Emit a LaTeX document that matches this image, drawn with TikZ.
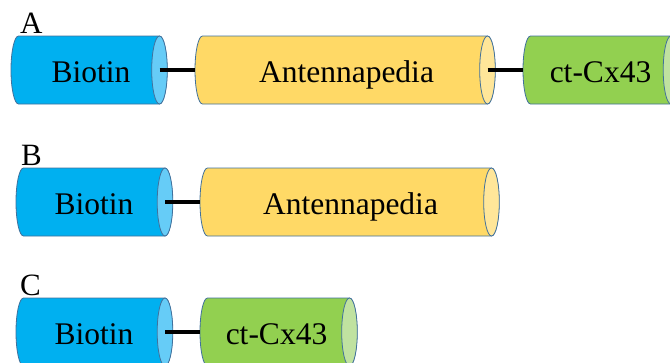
\documentclass[tikz,border=0pt]{standalone}
\usepackage{fontspec}
\setmainfont{Liberation Serif}
\definecolor{outl}{HTML}{41719C}
\definecolor{bioBody}{HTML}{00B0F0}
\definecolor{bioCap}{HTML}{66CCF7}
\definecolor{antBody}{HTML}{FFD966}
\definecolor{antCap}{HTML}{FFE699}
\definecolor{cxBody}{HTML}{92D050}
\definecolor{cxCap}{HTML}{C0E2A0}
\tikzset{
  cylline/.style={draw=outl, line width=0.8pt},
  conn/.style={draw=black, line width=3.5pt},
  lab/.style={font=\fontsize{31.5}{36}\selectfont, inner sep=0pt, anchor=base},
  rowlab/.style={font=\fontsize{31}{34}\selectfont, inner sep=0pt, anchor=base west}
}
% #1 name, #2 left x, #3 right cap centre x, #4 centre y, #5 body, #6 cap, #7 text, #8 text x
\newcommand\mycyl[8]{%
  \path[cylline, fill=#5] (#3,#4-34) -- (#2+7.5,#4-34)
     arc[start angle=270, end angle=90, x radius=7.5, y radius=34]
     -- (#3,#4+34)
     arc[start angle=90, end angle=-90, x radius=7.5, y radius=34] -- cycle;
  \path[cylline, fill=#6] (#3,#4) ellipse[x radius=7.8, y radius=34];
  \coordinate (#1-l) at (#2,#4);
  \coordinate (#1-c) at (#3,#4);
  \node[lab] (#1) at (#8,#4+12) {#7};
}
\begin{document}
\begin{tikzpicture}[x=1pt,y=-1pt]
\useasboundingbox (0,0) rectangle (670,362);
\clip (0,0) rectangle (670,362);
% Row A
\node[rowlab] (labA) at (20,33) {A};
\mycyl{bioA}{11}{159.5}{70}{bioBody}{bioCap}{Biotin}{91}
\mycyl{antA}{195}{487.5}{70}{antBody}{antCap}{Antennapedia}{346.5}
\mycyl{cxA}{523}{671}{70}{cxBody}{cxCap}{ct-Cx43}{600.5}
\draw[conn] (bioA-c) -- (antA-l);
\draw[conn] (antA-c) -- (cxA-l);
% Row B
\node[rowlab] (labB) at (21,165) {B};
\mycyl{bioB}{16}{165}{202}{bioBody}{bioCap}{Biotin}{94}
\mycyl{antB}{200}{491.5}{202}{antBody}{antCap}{Antennapedia}{350.5}
\draw[conn] (bioB-c) -- (antB-l);
% Row C
\node[rowlab] (labC) at (20,295) {C};
\mycyl{bioC}{16}{165}{332}{bioBody}{bioCap}{Biotin}{94}
\mycyl{cxC}{200}{349.5}{332}{cxBody}{cxCap}{ct-Cx43}{276.5}
\draw[conn] (bioC-c) -- (cxC-l);
\end{tikzpicture}
\end{document}
